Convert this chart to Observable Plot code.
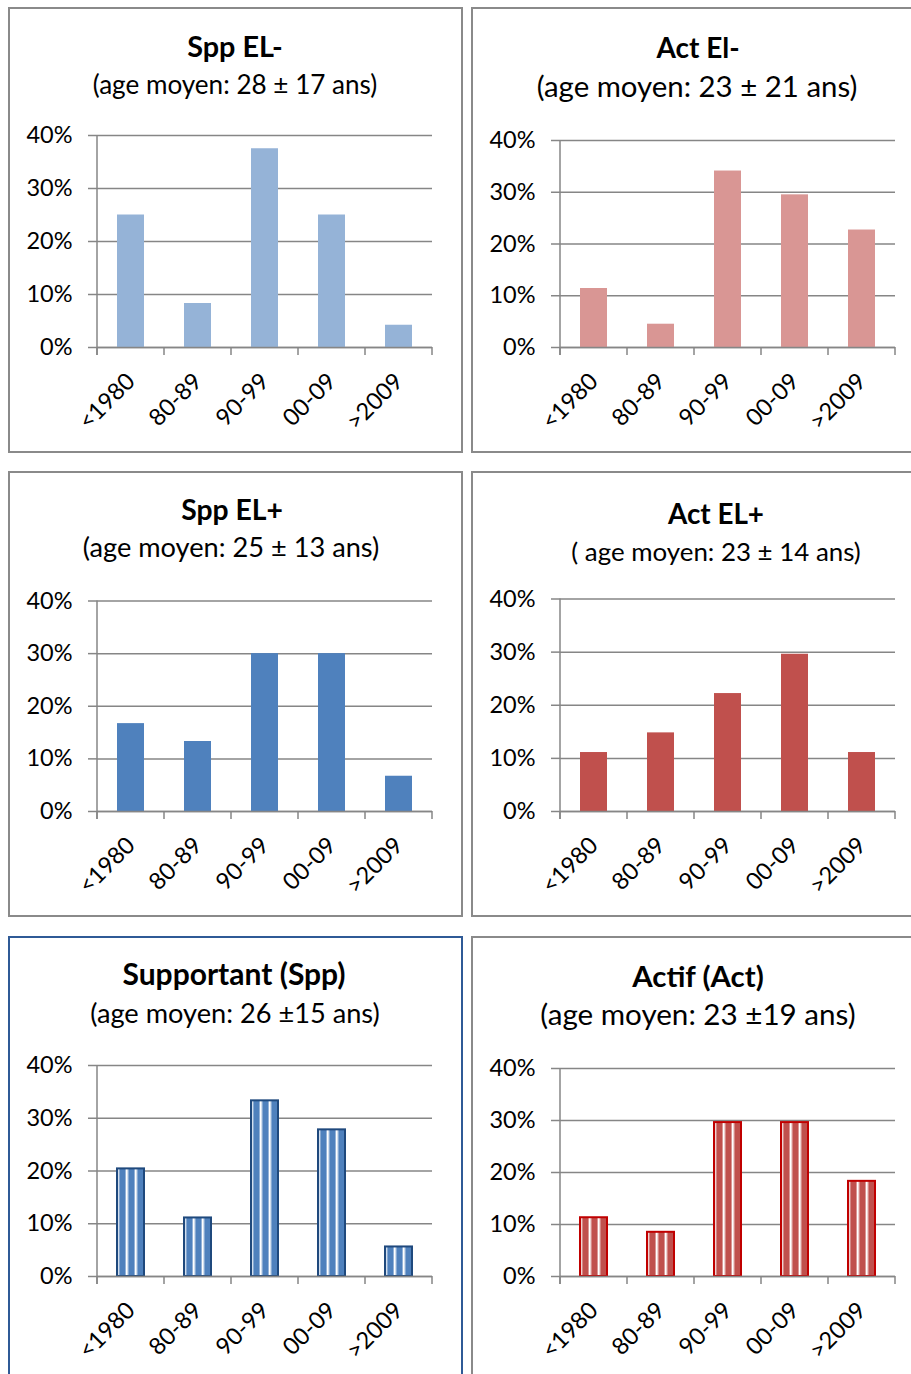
<!DOCTYPE html>
<html>
<head>
<meta charset="utf-8">
<script src="https://cdn.jsdelivr.net/npm/d3@7"></script>
<script src="https://cdn.jsdelivr.net/npm/@observablehq/plot@0.6"></script>
<style>
  html, body { margin: 0; padding: 0; background: #fff; }
  body { width: 911px; height: 1374px; position: relative; overflow: hidden; font-family: Lato, "DejaVu Sans", sans-serif; }
  .panel { position: absolute; box-sizing: border-box; border: 2px solid #8a8a8a; background: #fff; }
  .txt { position: absolute; width: 440px; text-align: center; line-height: 1; white-space: pre; color: #000; }
  .title { font-weight: bold; }
  .chart { position: absolute; }
</style>
</head>
<body>
<svg width="0" height="0" style="position:absolute">
  <defs>
    <linearGradient id="gradBlue" x1="0" x2="1" y1="0" y2="0">
      <stop offset="0" stop-color="#ffffff"/>
      <stop offset="0.1" stop-color="#ffffff"/>
      <stop offset="0.36" stop-color="#4F81BD"/>
      <stop offset="0.84" stop-color="#4F81BD"/>
      <stop offset="1" stop-color="#b9cde6"/>
    </linearGradient>
    <linearGradient id="gradRed" x1="0" x2="1" y1="0" y2="0">
      <stop offset="0" stop-color="#ffffff"/>
      <stop offset="0.1" stop-color="#ffffff"/>
      <stop offset="0.36" stop-color="#C0504D"/>
      <stop offset="0.84" stop-color="#C0504D"/>
      <stop offset="1" stop-color="#e8bcbb"/>
    </linearGradient>
    <pattern id="stripeBlue" patternUnits="objectBoundingBox" patternContentUnits="objectBoundingBox" width="0.3333" height="1">
      <rect x="0" y="0" width="0.3334" height="1" fill="url(#gradBlue)"/>
    </pattern>
    <pattern id="stripeRed" patternUnits="objectBoundingBox" patternContentUnits="objectBoundingBox" width="0.3333" height="1">
      <rect x="0" y="0" width="0.3334" height="1" fill="url(#gradRed)"/>
    </pattern>
  </defs>
</svg>
<script>
// ---------- data ----------
const categories = ["<1980", "80-89", "90-99", "00-09", ">2009"];
const yTicks = [0, 0.1, 0.2, 0.3, 0.4];

const sppElMinus = [0.25, 0.083, 0.375, 0.25, 0.042];
const actElMinus = [0.114, 0.045, 0.341, 0.295, 0.227];
const sppElPlus  = [0.167, 0.133, 0.30, 0.30, 0.067];
const actElPlus  = [0.111, 0.148, 0.222, 0.296, 0.111];
const supportant = [0.204, 0.111, 0.333, 0.278, 0.056];
const actif      = [0.113, 0.085, 0.296, 0.296, 0.183];

const titles = ["Spp EL-", "Act El-", "Spp EL+", "Act EL+", "Supportant (Spp)", "Actif (Act)"];
const subtitles = [
  "(age moyen: 28 \u00b1 17 ans)",
  "(age moyen: 23 \u00b1 21 ans)",
  "(age moyen: 25 \u00b1 13 ans)",
  "( age moyen: 23 \u00b1 14 ans)",
  "(age moyen: 26 \u00b115 ans)",
  "(age moyen: 23 \u00b119 ans)"
];
const seriesList = [sppElMinus, actElMinus, sppElPlus, actElPlus, supportant, actif];

// ---------- layout & styles ----------
const panelsLayout = [
  {box: [8, 7, 455, 446],    border: "#8a8a8a", plotLeft: 97,  top40: 135,   zero: 347,  titleX: 235, titleBase: 58,  titleSize: 28.8, subX: 235, subBase: 94,   subSize: 26.1, fill: "#95B3D7", stroke: "none"},
  {box: [471, 7, 455, 446],  border: "#8a8a8a", plotLeft: 560, top40: 140,   zero: 347,  titleX: 698, titleBase: 58,  titleSize: 28,   subX: 697, subBase: 97,   subSize: 29.4, fill: "#D99694", stroke: "none"},
  {box: [8, 471, 455, 446],  border: "#8a8a8a", plotLeft: 97,  top40: 600.5, zero: 811,  titleX: 232, titleBase: 520, titleSize: 28.3, subX: 231, subBase: 557,  subSize: 27.2, fill: "#4F81BD", stroke: "none"},
  {box: [471, 471, 455, 446],border: "#8a8a8a", plotLeft: 560, top40: 598.5, zero: 811,  titleX: 716, titleBase: 525, titleSize: 27.8, subX: 716, subBase: 562,  subSize: 25.9, fill: "#C0504D", stroke: "none"},
  {box: [8, 936, 455, 460],  border: "#2f5a96", plotLeft: 97,  top40: 1065,  zero: 1276, titleX: 234, titleBase: 985, titleSize: 30,   subX: 235, subBase: 1023, subSize: 27.2, fill: "url(#stripeBlue)", stroke: "#1F497D"},
  {box: [471, 936, 455, 460],border: "#8a8a8a", plotLeft: 560, top40: 1068,  zero: 1276, titleX: 698, titleBase: 987, titleSize: 29.4, subX: 698, subBase: 1025, subSize: 29.6, fill: "url(#stripeRed)",  stroke: "#C00000"}
];
const plotWidthInner = 335;
const gridColor = "#868686";
const ascentFactor = 0.887;
const tickFont = 23.5;

function addText(str, cx, baseline, size, cls) {
  const d = document.createElement("div");
  d.className = "txt " + cls;
  d.textContent = str;
  d.style.left = (cx - 220) + "px";
  d.style.top = (baseline - ascentFactor * size) + "px";
  d.style.fontSize = size + "px";
  document.body.appendChild(d);
}

panelsLayout.forEach((L, i) => {
  const p = document.createElement("div");
  p.className = "panel";
  p.style.left = L.box[0] + "px";
  p.style.top = L.box[1] + "px";
  p.style.width = L.box[2] + "px";
  p.style.height = L.box[3] + "px";
  p.style.borderColor = L.border;
  document.body.appendChild(p);

  addText(titles[i], L.titleX, L.titleBase, L.titleSize, "title");
  addText(subtitles[i], L.subX, L.subBase, L.subSize, "sub");

  const data = categories.map((c, k) => ({cat: c, value: seriesList[i][k]}));

  const marginLeft = 88, marginRight = 30;
  const svgHeight = 340, below = 101;
  const svgTop = L.zero - (svgHeight - below);
  const marginTop = L.top40 - svgTop;

  const boundaryTicks = (index, scales) => {
    const x = scales.x, y = scales.y;
    const step = x.step(), bw = x.bandwidth();
    const y0 = y(0);
    const xs = categories.map(c => x(c) - (step - bw) / 2);
    xs.push(x(categories[categories.length - 1]) + bw + (step - bw) / 2);
    const g = d3.create("svg:g").attr("stroke", gridColor).attr("stroke-width", 1.5);
    xs.forEach(v => g.append("line").attr("x1", v).attr("x2", v).attr("y1", y0).attr("y2", y0 + 8));
    g.append("line").attr("x1", xs[0]).attr("x2", xs[0]).attr("y1", y(0.4)).attr("y2", y0 + 8);
    return g.node();
  };

  const chart = Plot.plot({
    width: marginLeft + plotWidthInner + marginRight,
    height: svgHeight,
    marginLeft, marginRight, marginTop, marginBottom: below,
    style: {fontFamily: "Lato, sans-serif", fontSize: tickFont + "px", color: "#000", background: "transparent", overflow: "visible"},
    x: {domain: categories, paddingInner: 0.6, paddingOuter: 0.3, label: null},
    y: {domain: [0, 0.4], label: null},
    marks: [
      Plot.gridY(yTicks, {stroke: gridColor, strokeOpacity: 1, strokeWidth: 1.5}),
      Plot.axisY({ticks: yTicks, tickFormat: d3.format(".0%"), tickSize: 9, tickPadding: 16, stroke: gridColor, strokeWidth: 1.5, strokeOpacity: 1, label: null, fontSize: tickFont}),
      Plot.barY(data, {x: "cat", y: "value", fill: L.fill, stroke: L.stroke, strokeWidth: 2}),
      Plot.ruleY([0], {stroke: gridColor, strokeWidth: 1.5}),
      boundaryTicks,
      Plot.axisX({tickSize: 0, tickRotate: -45, tickPadding: 30, label: null, fontSize: tickFont})
    ]
  });
  chart.classList.add("chart");
  chart.style.left = (L.plotLeft - marginLeft) + "px";
  chart.style.top = svgTop + "px";
  document.body.appendChild(chart);
});
</script>
</body>
</html>
